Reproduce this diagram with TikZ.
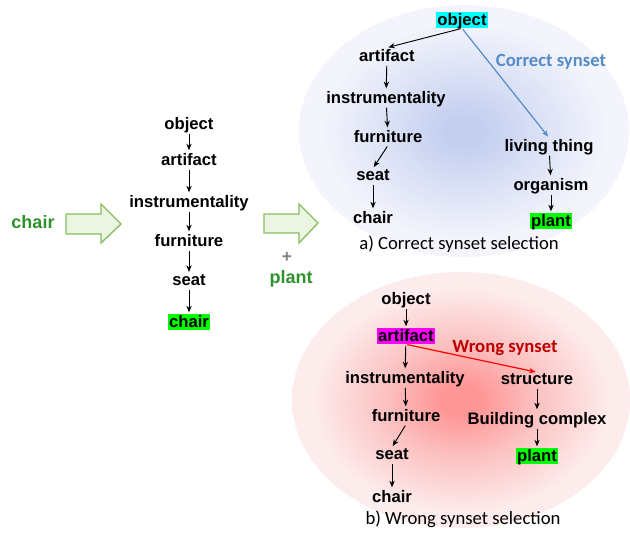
\documentclass[tikz,border=0pt]{standalone}
\usepackage{fontspec}
\setmainfont{Liberation Sans}
\newfontfamily\capfont{Carlito}
\usetikzlibrary{arrows.meta}

\definecolor{lblgreen}{RGB}{45,145,45}
\definecolor{arrfill}{RGB}{236,245,226}
\definecolor{arrdraw}{RGB}{135,190,95}
\definecolor{hlgreen}{RGB}{0,255,0}
\definecolor{hlcyan}{RGB}{0,255,255}
\definecolor{hlmag}{RGB}{255,0,255}
\definecolor{goodblue}{RGB}{85,140,200}
\definecolor{badred}{RGB}{192,0,0}
\definecolor{bluein}{RGB}{196,207,240}
\definecolor{bluemid}{RGB}{220,226,246}
\definecolor{blueout}{RGB}{244,245,252}
\definecolor{redin}{RGB}{255,150,150}
\definecolor{redmid}{RGB}{252,192,192}
\definecolor{redout}{RGB}{253,236,236}

% the ellipse outline sits at 25bp of a radial shading
\pgfdeclareradialshading{blueglow}{\pgfpoint{0bp}{0bp}}{%
  color(0bp)=(bluein); color(3bp)=(bluein); color(12bp)=(bluemid); color(22bp)=(blueout); color(50bp)=(blueout)}
\pgfdeclareradialshading{redglow}{\pgfpoint{0bp}{0bp}}{%
  color(0bp)=(redin); color(3bp)=(redin); color(11bp)=(redmid); color(22bp)=(redout); color(50bp)=(redout)}

\tikzset{
  term/.style={font=\fontsize{12.5}{14}\selectfont\bfseries, inner sep=1pt, text depth=0.2ex},
  hlg/.style={term, fill=hlgreen},
  hyp/.style={-{Stealth[length=5pt,width=4pt]}, line width=0.7pt, black, shorten >=1pt, shorten <=1pt},
  bigarrow/.style={draw=arrdraw, fill=arrfill, line width=1pt, line join=miter},
  inword/.style={font=\fontsize{13.5}{16}\selectfont\bfseries, text=lblgreen},
  caption/.style={font=\capfont\fontsize{14}{17}\selectfont, text=black},
}

\begin{document}
\begin{tikzpicture}[x=0.75pt, y=-0.75pt]
\useasboundingbox (0,0) rectangle (630,532);

% glowing ellipses behind the two hierarchies
\shade[shading=blueglow] (464,131) ellipse [x radius=165, y radius=126];
\shade[shading=redglow] (461,400) ellipse [x radius=169, y radius=128];

% input word and block arrows
\node[inword] (inchair) at (33,222) {chair};
\draw[bigarrow] (66,214) -- (101,214) -- (101,204) -- (121,224) -- (101,243) -- (101,234) -- (66,234) -- cycle;
\draw[bigarrow] (264,214) -- (299,214) -- (299,204) -- (318,223) -- (299,243) -- (299,233) -- (264,233) -- cycle;
\node[font=\fontsize{13}{15}\selectfont\bfseries, text=black!50] (plus) at (287,257) {+};
\node[inword] (inplant) at (291,279) {plant};

% hypernym chain of "chair"
\node[term] (lobj) at (189,124) {object};
\node[term] (lart) at (189,160) {artifact};
\node[term] (lins) at (189,202) {instrumentality};
\node[term] (lfur) at (189,241) {furniture};
\node[term] (lsea) at (189,281) {seat};
\node[hlg]  (lcha) at (189,322) {chair};
\draw[hyp] (lobj) -- (lart);
\draw[hyp] (lart) -- (lins);
\draw[hyp] (lins) -- (lfur);
\draw[hyp] (lfur) -- (lsea);
\draw[hyp] (lsea) -- (lcha);

% a) correct synset
\node[term, fill=hlcyan] (tobj) at (462,20) {object};
\node[term] (tart) at (387,56) {artifact};
\node[term] (tins) at (386,98) {instrumentality};
\node[term] (tfur) at (388,137) {furniture};
\node[term] (tsea) at (373,176) {seat};
\node[term] (tcha) at (373,218) {chair};
\node[term] (tliv) at (549,146) {living thing};
\node[term] (torg) at (551,185) {organism};
\node[hlg]  (tpla) at (551,221) {plant};
\draw[hyp] (tobj.south) -- (tart.north);
\draw[hyp] (tart) -- (tins);
\draw[hyp] (tins) -- (tfur);
\draw[hyp] (tfur.south) -- (tsea.north);
\draw[hyp] (tsea) -- (tcha);
\draw[hyp, goodblue, line width=0.9pt] (tobj.south) -- (tliv.north);
\draw[hyp] (tliv) -- (torg);
\draw[hyp] (torg) -- (tpla);
\node[font=\capfont\fontsize{14}{16}\selectfont\bfseries, text=goodblue] (tlab) at (551,62) {Correct synset};
\node[caption] (tcap) at (459,244) {a) Correct synset selection};

% b) wrong synset
\node[term] (bobj) at (406,299) {object};
\node[term, fill=hlmag] (bart) at (406,336) {artifact};
\node[term] (bins) at (405,378) {instrumentality};
\node[term] (bfur) at (406,416) {furniture};
\node[term] (bsea) at (392,455) {seat};
\node[term] (bcha) at (392,497) {chair};
\node[term] (bstr) at (537,380) {structure};
\node[term] (bbui) at (537,419) {Building complex};
\node[hlg]  (bpla) at (537,456) {plant};
\draw[hyp] (bobj) -- (bart);
\draw[hyp] (bart) -- (bins);
\draw[hyp] (bins) -- (bfur);
\draw[hyp] (bfur.south) -- (bsea.north);
\draw[hyp] (bsea) -- (bcha);
\draw[hyp, red, line width=0.9pt] (bart.south) -- (bstr.north);
\draw[hyp] (bstr) -- (bbui);
\draw[hyp] (bbui) -- (bpla);
\node[font=\capfont\fontsize{14}{16}\selectfont\bfseries, text=badred] (blab) at (505,348) {Wrong synset};
\node[caption] (bcap) at (463,519) {b) Wrong synset selection};
\end{tikzpicture}
\end{document}
